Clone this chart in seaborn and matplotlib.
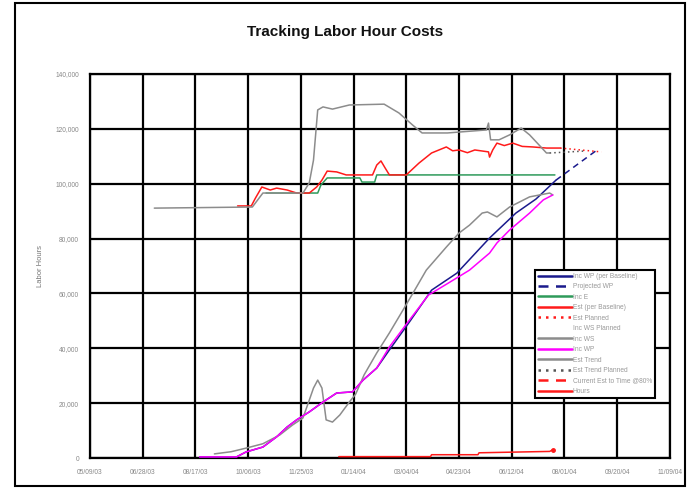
import matplotlib
matplotlib.use("Agg")
import matplotlib.pyplot as plt
from matplotlib.patches import Rectangle
import pandas as pd
import seaborn as sns

# ---- data (labor hours) ----
est_trend_dates = ["2003-07-09", "2003-10-10", "2003-10-20", "2003-11-27", "2003-12-03", "2003-12-07",
                   "2003-12-11", "2003-12-16", "2003-12-25", "2004-01-10", "2004-02-12", "2004-02-26",
                   "2004-03-10", "2004-03-19", "2004-04-12", "2004-05-19", "2004-05-21", "2004-05-23",
                   "2004-05-31", "2004-06-10", "2004-06-21", "2004-06-29", "2004-07-08", "2004-07-15",
                   "2004-07-18"]
est_trend_vals = [91100, 91500, 96600, 96600, 100300, 108600, 126900, 128000, 127200, 128700, 129000,
                  125800, 121400, 118500, 118500, 119600, 122100, 116000, 116000, 117800, 120300,
                  117800, 114100, 111200, 111200]

est_trend_plan_dates = ["2004-07-18", "2004-08-20"]
est_trend_plan_vals = [111200, 111900]

est_base_dates = ["2003-09-26", "2003-10-09", "2003-10-13", "2003-10-19", "2003-10-27", "2003-11-02",
                  "2003-11-12", "2003-11-21", "2003-12-03", "2003-12-10", "2003-12-15", "2003-12-20",
                  "2003-12-29", "2004-01-07", "2004-02-01", "2004-02-05", "2004-02-09", "2004-02-13",
                  "2004-02-17", "2004-03-04", "2004-03-16", "2004-03-28", "2004-04-11", "2004-04-17",
                  "2004-04-23", "2004-05-01", "2004-05-08", "2004-05-21", "2004-05-22", "2004-05-25",
                  "2004-05-29", "2004-06-05", "2004-06-13", "2004-06-22", "2004-07-02", "2004-07-15",
                  "2004-07-28"]
est_base_vals = [91900, 91900, 94800, 98800, 97700, 98400, 97700, 96600, 96600, 98800, 101300, 104600,
                 104300, 103200, 103200, 106800, 108300, 105700, 103200, 103200, 107500, 111200,
                 113400, 112000, 112300, 111300, 112300, 111600, 109700, 112300, 114800, 113900,
                 114800, 113600, 113400, 113000, 113000]

est_plan_dates = ["2004-07-28", "2004-09-05"]
est_plan_vals = [113000, 111600]

inc_e_dates = ["2003-10-23", "2003-12-11", "2003-12-14", "2003-12-20", "2004-01-20", "2004-01-22",
               "2004-02-03", "2004-02-05", "2004-07-23"]
inc_e_vals = [96600, 96600, 99500, 102100, 102100, 100600, 100600, 103200, 103200]

wp_base_dates = ["2003-08-21", "2003-09-25", "2003-10-04", "2003-10-20", "2003-11-02", "2003-11-12",
                 "2003-11-21", "2003-12-03", "2003-12-16", "2003-12-29", "2004-01-13", "2004-01-23",
                 "2004-02-05", "2004-02-17", "2004-03-07", "2004-03-28", "2004-04-21", "2004-05-22",
                 "2004-06-16", "2004-07-05", "2004-07-24"]
wp_base_vals = [400, 400, 2200, 4000, 7700, 11300, 13900, 16800, 20400, 23700, 24100, 28400, 32800,
                39400, 49600, 61200, 67400, 80200, 89300, 94400, 101300]

wp_proj_dates = ["2004-07-24", "2004-09-01"]
wp_proj_vals = [101300, 112300]

inc_wp_dates = ["2003-08-21", "2003-09-25", "2003-10-04", "2003-10-20", "2003-11-02", "2003-11-12",
                "2003-11-21", "2003-12-03", "2003-12-16", "2003-12-29", "2004-01-13", "2004-01-23",
                "2004-02-05", "2004-02-17", "2004-03-07", "2004-03-25", "2004-04-13", "2004-05-03",
                "2004-05-22", "2004-05-29", "2004-06-10", "2004-06-29", "2004-07-12", "2004-07-21"]
inc_wp_vals = [400, 400, 2200, 4000, 7700, 11300, 13900, 16800, 20400, 23700, 24100, 28400, 32800,
               40500, 50300, 59400, 63800, 68500, 74700, 78400, 83100, 89300, 94100, 95900]

inc_ws_dates = ["2003-09-04", "2003-09-20", "2003-10-04", "2003-10-20", "2003-11-05", "2003-11-17",
                "2003-11-27", "2003-12-03", "2003-12-07", "2003-12-11", "2003-12-15", "2003-12-19",
                "2003-12-25", "2004-01-01", "2004-01-10", "2004-01-16", "2004-01-24", "2004-02-05",
                "2004-02-17", "2004-03-01", "2004-03-12", "2004-03-23", "2004-04-11", "2004-04-23",
                "2004-05-03", "2004-05-15", "2004-05-20", "2004-05-29", "2004-06-10", "2004-06-29",
                "2004-07-18", "2004-07-21"]
inc_ws_vals = [1500, 2300, 3600, 5200, 8400, 12000, 14600, 21100, 25500, 28400, 25500, 13900, 13100,
               15700, 20400, 23300, 30300, 38300, 45600, 54000, 61200, 68500, 76900, 82000, 84900,
               89300, 89700, 87900, 91500, 95200, 96600, 95900]

hours_dates = ["2003-12-31", "2004-03-27", "2004-03-28", "2004-05-11", "2004-05-12", "2004-07-18",
               "2004-07-21"]
hours_vals = [500, 500, 1200, 1200, 1900, 2400, 3000]

tick_labels = ["05/09/03", "06/28/03", "08/17/03", "10/06/03", "11/25/03", "01/14/04",
               "03/04/04", "04/23/04", "06/12/04", "08/01/04", "09/20/04", "11/09/04"]

# ---- styling ----
sns.set_theme(style="white")
plt.rcParams['font.family'] = ['Liberation Sans', 'DejaVu Sans']

fig = plt.figure(figsize=(6.87, 4.90), dpi=100)
ax = fig.add_axes([0.131, 0.0653, 0.844, 0.7837])

series = [
    ("Inc WP (per Baseline)", wp_base_dates, wp_base_vals, "#1a1a8c", "-", 3),
    ("Projected WP", wp_proj_dates, wp_proj_vals, "#1a1a8c", (0, (4, 3)), 3),
    ("Inc E", inc_e_dates, inc_e_vals, "#2e9a5a", "-", 3),
    ("Est (per Baseline)", est_base_dates, est_base_vals, "#ff1a1a", "-", 3),
    ("Est Planned", est_plan_dates, est_plan_vals, "#ff1a1a", (0, (1, 2)), 3),
    ("Est Trend", est_trend_dates, est_trend_vals, "#8c8c8c", "-", 3),
    ("Est Trend Planned", est_trend_plan_dates, est_trend_plan_vals, "#555555", (0, (1, 2)), 3),
    ("Inc WS", inc_ws_dates, inc_ws_vals, "#8c8c8c", "-", 3),
    ("Inc WP", inc_wp_dates, inc_wp_vals, "#ff00ff", "-", 4),
    ("Hours", hours_dates, hours_vals, "#ff1a1a", "-", 3),
]

for name, d, v, c, ls, z in series:
    df = pd.DataFrame({"date": pd.to_datetime(d), "hours": v})
    sns.lineplot(data=df, x="date", y="hours", ax=ax, color=c, linestyle=ls,
                 linewidth=1.1, zorder=z, legend=False, estimator=None, sort=False)

# end marker of the hours series
ax.plot(pd.to_datetime(hours_dates[-1:]), hours_vals[-1:], "o", color="#ff1a1a",
        markersize=2.5, zorder=4)

# axes limits and grid
ticks = pd.to_datetime(tick_labels, format="%m/%d/%y")
ax.set_xlim(ticks[0], ticks[-1])
ax.set_ylim(0, 140000)
ax.set_xticks(ticks)
ax.set_xticklabels(tick_labels)
ax.set_yticks(range(0, 140001, 20000))
ax.set_yticklabels(["0"] + [f"{v:,}" for v in range(20000, 140001, 20000)])
ax.grid(True, color="black", linewidth=1.6)
ax.set_axisbelow(True)
for s in ax.spines.values():
    s.set_color("black")
    s.set_linewidth(1.6)
ax.tick_params(axis="both", labelsize=4.8, labelcolor="#888888", length=2, width=1,
               color="black", pad=6)
ax.set_xlabel("")
ax.set_ylabel("Labor Hours", fontsize=5.5, color="#777777", labelpad=8)

fig.text(0.503, 0.935, "Tracking Labor Hour Costs", ha="center", va="center",
         fontsize=11, fontweight="bold", color="#111111")

# legend
legend_items = [
    ("Inc WP (per Baseline)", "#1a1a8c", "-"),
    ("Projected WP", "#1a1a8c", (0, (4, 3))),
    ("Inc E", "#2e9a5a", "-"),
    ("Est (per Baseline)", "#ff1a1a", "-"),
    ("Est Planned", "#ff1a1a", (0, (1, 2))),
    ("Inc WS Planned", "none", "-"),
    ("Inc WS", "#8c8c8c", "-"),
    ("Inc WP", "#ff00ff", "-"),
    ("Est Trend", "#8c8c8c", "-"),
    ("Est Trend Planned", "#555555", (0, (1, 2))),
    ("Current Est to Time @80%", "#ff1a1a", (0, (4, 3))),
    ("Hours", "#ff1a1a", "-"),
]
handles = [plt.Line2D([], [], color=c, linestyle=ls, linewidth=1.8) for _, c, ls in legend_items]
leg = ax.legend(handles, [n for n, _, _ in legend_items], loc="upper left",
                bbox_to_anchor=(0.768, 0.49), fontsize=4.8, frameon=True, fancybox=False,
                edgecolor="black", framealpha=1, handlelength=5.0, handletextpad=0.2,
                labelspacing=0.52, borderpad=0.45, borderaxespad=0)
leg.get_frame().set_linewidth(1.5)
for t in leg.get_texts():
    t.set_color("#999999")
leg.set_zorder(10)

# outer frame
fig.patches.append(Rectangle((0.022, 0.008), 0.975, 0.985, transform=fig.transFigure,
                             fill=False, edgecolor="black", linewidth=1.5))

fig.savefig("out.png", dpi=100)
